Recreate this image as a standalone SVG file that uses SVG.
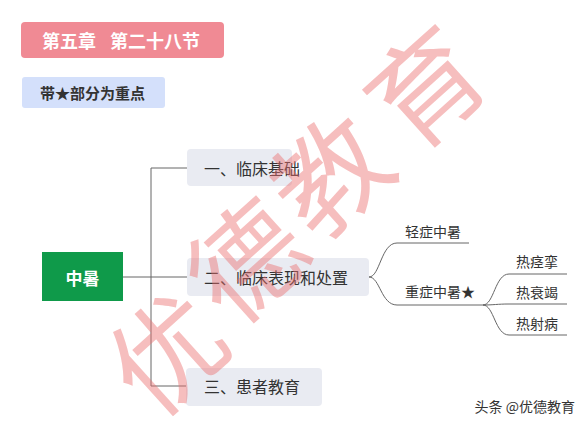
<svg xmlns="http://www.w3.org/2000/svg" width="587" height="426" viewBox="0 0 587 426">
<style>
text{font-family:"Noto Sans CJK SC","Noto Sans",sans-serif;}
.n1 rect{fill:#e9ebf2;}
.n1 text{font-size:16px;fill:#333;dominant-baseline:central;}
.n2 text{font-size:14px;fill:#333;dominant-baseline:central;}
.ln{fill:none;stroke:#666;stroke-width:1;}
.wm{font-size:112px;fill:#ec6f6f;fill-opacity:0.45;text-anchor:middle;dominant-baseline:central;font-weight:400;}
</style>
<rect width="587" height="426" fill="#fff"/>
<g id="title">
<rect x="21" y="22" width="203" height="36" rx="4" fill="#f08a94"/>
<text x="42" y="40" font-size="18" font-weight="bold" fill="#fff" dominant-baseline="central">第五章</text>
<text x="110" y="40" font-size="18" font-weight="bold" fill="#fff" dominant-baseline="central">第二十八节</text>
</g>
<g id="note">
<rect x="22" y="77" width="143" height="31" rx="3" fill="#d4e0fb"/>
<text x="40" y="92.5" font-size="15" font-weight="bold" fill="#333" dominant-baseline="central">带★部分为重点</text>
</g>
<g id="connectors">
<path class="ln" d="M123,277 H187 M151,168 V386 M151,168 H187 M151,386 H186"/>
<path class="ln" d="M369,277 C380,277 381,243 397,243 H469"/>
<path class="ln" d="M369,277 C380,277 381,305 397,305 H483"/>
<path class="ln" d="M483,305 C494,305 495,274 509,274 H567"/>
<path class="ln" d="M483,305 C494,305 497,304 509,304 H567"/>
<path class="ln" d="M483,305 C494,305 495,335 509,335 H567"/>
</g>
<g id="root">
<rect x="42" y="252" width="81" height="49" fill="#0f9a4a"/>
<text x="82.5" y="277" font-size="17" font-weight="bold" fill="#fff" text-anchor="middle" dominant-baseline="central">中暑</text>
</g>
<g id="node-basics" class="n1">
<rect x="187" y="149" width="105" height="37" rx="4"/>
<text x="204" y="168">一、临床基础</text>
</g>
<g id="node-clinical" class="n1">
<rect x="187" y="258" width="182" height="38" rx="4"/>
<text x="204" y="277">二、临床表现和处置</text>
</g>
<g id="node-education" class="n1">
<rect x="186" y="368" width="136" height="38" rx="4"/>
<text x="204" y="386">三、患者教育</text>
</g>
<g id="node-mild" class="n2"><text x="405" y="231">轻症中暑</text></g>
<g id="node-severe" class="n2"><text x="405" y="291">重症中暑★</text></g>
<g id="node-cramp" class="n2"><text x="516" y="261">热痉挛</text></g>
<g id="node-exhaustion" class="n2"><text x="516" y="292">热衰竭</text></g>
<g id="node-stroke" class="n2"><text x="516" y="323">热射病</text></g>
<g id="footer"><text x="575" y="406" font-size="14" fill="#333" text-anchor="end" dominant-baseline="central">头条 @优德教育</text></g>
<g id="watermark">
<text class="wm" transform="translate(162,348) rotate(-42)">优</text>
<text class="wm" transform="translate(242,256) rotate(-42)">德</text>
<text class="wm" transform="translate(326,170) rotate(-42)">教</text>
<text class="wm" transform="translate(421,82) rotate(-42)">育</text>
</g>
</svg>
